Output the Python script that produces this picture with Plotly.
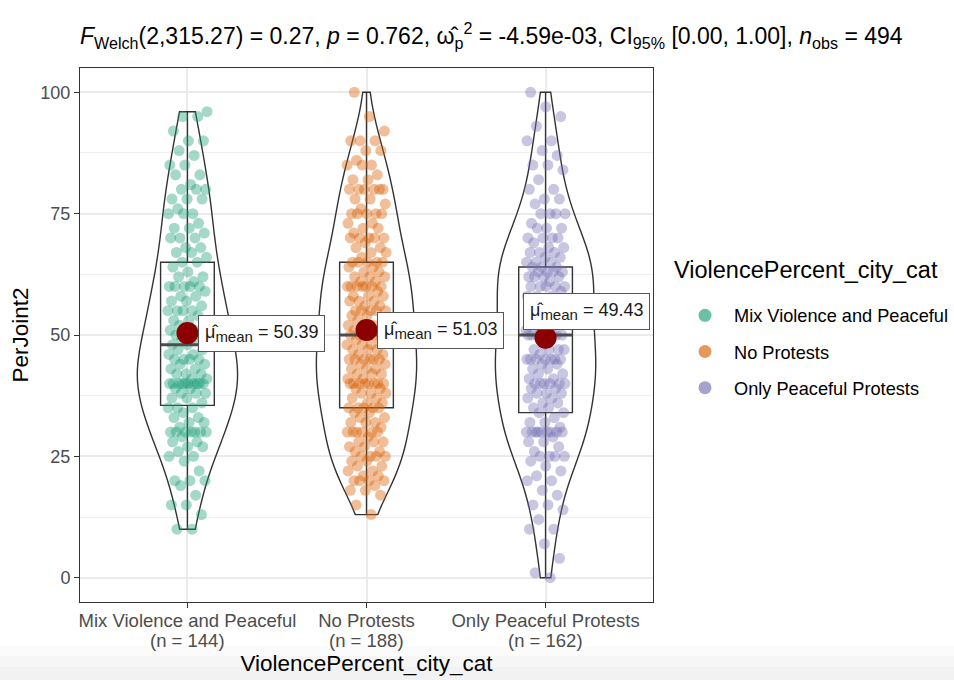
import numpy as np
import plotly.graph_objects as go

# ---------------- data ----------------
categories = ["Mix Violence and Peaceful", "No Protests", "Only Peaceful Protests"]
n_labels = ["(n = 144)", "(n = 188)", "(n = 162)"]

mix_values = [10, 13, 15, 17, 19, 20, 22, 24, 25, 26, 27, 28, 29, 30, 31, 32, 33, 34, 35,
              36, 37, 38, 39, 40, 41, 42, 43, 44, 45, 46, 47, 48,
              49, 50, 51, 52, 53, 54, 55, 56, 57, 58, 59, 60, 61, 62, 63, 64, 65,
              66, 67, 68, 70, 71, 72, 73, 75, 76, 78, 80, 81, 83, 85, 87, 88, 90, 92, 95, 96]
mix_counts = [2, 1, 2, 1, 1, 3, 1, 1, 2, 1, 2, 2, 1, 7, 1, 2, 2, 1, 3,
              1, 2, 3, 2, 10, 2, 3, 2, 2, 4, 2, 2, 2,
              2, 5, 2, 2, 2, 1, 4, 1, 2, 2, 1, 5, 1, 2, 1, 1, 2,
              1, 2, 2, 3, 1, 2, 1, 3, 1, 3, 3, 1, 2, 2, 1, 1, 2, 1, 2, 1]

none_values = [13, 15, 17, 18, 19, 20, 21, 22, 23, 24, 25, 26, 27, 28, 29, 30, 31, 32, 33, 34, 35,
               36, 37, 38, 39, 40, 41, 42, 43, 44, 45, 46, 47, 48, 49, 50,
               51, 52, 53, 54, 55, 56, 57, 58, 59, 60, 61, 62, 63, 64, 65,
               66, 67, 68, 69, 70, 71, 72, 73, 75, 76, 77, 78, 80, 82, 83, 85, 86, 88, 90, 92, 95, 100]
none_counts = [1, 1, 1, 2, 1, 4, 2, 2, 2, 2, 4, 2, 2, 3, 1, 6, 1, 3, 2, 2, 5,
               2, 2, 3, 2, 8, 2, 3, 3, 2, 6, 2, 3, 3, 2, 6,
               2, 3, 2, 2, 5, 2, 3, 3, 1, 7, 2, 3, 2, 2, 5,
               1, 2, 2, 1, 5, 1, 2, 2, 5, 1, 1, 2, 6, 2, 1, 3, 1, 2, 3, 1, 1, 1]

peace_values = [0, 1, 4, 7, 10, 12, 14, 15, 17, 18, 20, 21, 22, 23, 24, 25, 26, 27, 28, 29,
                30, 31, 32, 33, 34,
                35, 36, 37, 38, 39, 40, 41, 42, 43, 44, 45, 46, 47, 48, 50,
                51, 52, 53, 54, 55, 56, 57, 58, 59, 60, 61, 62, 63, 64,
                65, 66, 67, 68, 69, 70, 72, 73, 75, 77, 78, 80, 82, 84, 85, 87, 88, 90, 93, 95, 97, 100]
peace_counts = [1, 1, 1, 1, 2, 1, 1, 2, 1, 1, 2, 1, 1, 1, 1, 4, 1, 1, 2, 1,
                9, 1, 2, 1, 2,
                2, 2, 2, 3, 2, 6, 2, 2, 2, 2, 7, 1, 4, 1, 7,
                2, 1, 2, 2, 3, 2, 2, 3, 1, 5, 1, 4, 4, 3,
                3, 2, 3, 2, 1, 4, 3, 1, 4, 1, 2, 2, 1, 1, 2, 1, 1, 2, 1, 1, 1, 1]

group_means = [50.39, 51.03, 49.43]

title_text = ("<i>F</i><sub>Welch</sub>(2,315.27) = 0.27, <i>p</i> = 0.762, "
              "\u03c9\u0302<sub>p</sub><sup>2</sup> = -4.59e-03, "
              "CI<sub>95%</sub> [0.00, 1.00], <i>n</i><sub>obs</sub> = 494")
legend_title = "ViolencePercent_city_cat"
x_title = "ViolencePercent_city_cat"
y_title = "PerJoint2"

# ---------------- build ----------------
assert len(mix_values) == len(mix_counts) and sum(mix_counts) == 144
assert len(none_values) == len(none_counts) and sum(none_counts) == 188
assert len(peace_values) == len(peace_counts) and sum(peace_counts) == 162

series = [np.repeat(mix_values, mix_counts).astype(float),
          np.repeat(none_values, none_counts).astype(float),
          np.repeat(peace_values, peace_counts).astype(float)]

point_colors = ["#1B9E77", "#D95F02", "#7570B3"]
FONT = "Liberation Sans, Arial, Helvetica, sans-serif"
LINE = "#333333"
BOX_W = 0.3

# plot-area geometry (pixels) used for paper/container placement
W, H = 954, 680
ML, MR, MT, MB = 80, 301, 68, 78
PW, PH = W - ML - MR, H - MT - MB


def px_x(p):
    return (p - ML) / PW


def px_y(p):
    return (H - MB - p) / PH


def nrd0(v):
    sd = np.std(v, ddof=1)
    q75, q25 = np.percentile(v, [75, 25])
    h = min(sd, (q75 - q25) / 1.34)
    return 0.9 * h * len(v) ** (-0.2)


fig = go.Figure()

for i, vals in enumerate(series):
    fig.add_trace(go.Violin(
        x0=i, y=vals, width=0.56, scalegroup="all", scalemode="width",
        spanmode="hard", bandwidth=nrd0(vals),
        line=dict(color=LINE, width=1.4), fillcolor="rgba(255,255,255,0)",
        points=False, box_visible=False, meanline_visible=False,
        showlegend=False, hoverinfo="skip"))
    fig.add_trace(go.Box(
        x0=i, y=vals, width=BOX_W, boxpoints=False, whiskerwidth=0,
        line=dict(color=LINE, width=1.4), fillcolor="rgba(255,255,255,0)",
        showlegend=False, hoverinfo="skip"))

for i, vals in enumerate(series):
    k = np.arange(len(vals))
    jitter = (((k + 1) * 0.6180339887) % 1.0 - 0.5) * 0.22
    fig.add_trace(go.Scatter(
        x=i + jitter, y=vals, mode="markers",
        marker=dict(size=11, color=point_colors[i], opacity=0.4, line=dict(width=0)),
        showlegend=False, hoverinfo="skip"))

# thicker median bars (ggplot draws the median line fattened)
for i, vals in enumerate(series):
    med = float(np.median(vals))
    fig.add_trace(go.Scatter(
        x=[i - BOX_W / 2, i + BOX_W / 2], y=[med, med], mode="lines",
        line=dict(color="#4D4D4D", width=3), showlegend=False, hoverinfo="skip"))

# legend entries
for i, cat in enumerate(categories):
    fig.add_trace(go.Scatter(
        x=[None], y=[None], mode="markers", name=cat, legendgroup=cat,
        marker=dict(size=13, color=point_colors[i], opacity=0.65, line=dict(width=0))))

# means
fig.add_trace(go.Scatter(
    x=list(range(len(categories))), y=group_means, mode="markers",
    marker=dict(size=22, color="#8B0000", line=dict(width=0)),
    showlegend=False, hoverinfo="skip"))

label_shift = [(11, 0), (10, 0), (-23, 26)]
annotations = []
for i, m in enumerate(group_means):
    annotations.append(dict(
        x=i, y=m, xref="x", yref="y", showarrow=False,
        text=(f"\u03bc\u0302<sub><span style='font-size:15px'>mean</span></sub>"
              f" = {m:.2f}"),
        xanchor="left", yanchor="middle",
        xshift=label_shift[i][0], yshift=label_shift[i][1],
        bgcolor="white", bordercolor="#555555", borderwidth=1, borderpad=6,
        font=dict(size=18, color="#1a1a1a", family=FONT)))

# second line of the x tick labels
for i, nl in enumerate(n_labels):
    annotations.append(dict(
        x=i, y=0, xref="x", yref="paper", showarrow=False, text=nl,
        xanchor="center", yanchor="top", yshift=-26,
        font=dict(size=18.5, color="#4D4D4D", family=FONT)))

# legend title
annotations.append(dict(
    x=px_x(672), y=px_y(270), xref="paper", yref="paper", showarrow=False,
    text=legend_title, xanchor="left", yanchor="middle",
    font=dict(size=23.5, color="black", family=FONT)))

# faint grey band at the bottom of the picture
shapes = []
for top, bot, col in [(646, 656, "#FBFBFB"), (656, 667, "#F6F6F6"), (667, 681, "#F2F2F2")]:
    shapes.append(dict(type="rect", xref="paper", yref="paper",
                       x0=px_x(-1), x1=px_x(W + 1), y0=px_y(bot), y1=px_y(top),
                       fillcolor=col, line=dict(width=0), layer="below"))

fig.update_layout(
    template="none",
    width=W, height=H,
    margin=dict(l=ML, r=MR, t=MT, b=MB, autoexpand=False),
    paper_bgcolor="white", plot_bgcolor="white",
    font=dict(family=FONT, color="black"),
    title=dict(text=title_text, x=80 / W, xref="container", xanchor="left",
               y=1 - 36 / H, yref="container", yanchor="middle",
               font=dict(size=23, color="black", family=FONT)),
    annotations=annotations,
    shapes=shapes,
    legend=dict(x=664 / W, xref="container", xanchor="left",
                y=1 - 297 / H, yref="container", yanchor="top",
                font=dict(size=18.2, color="black"), tracegroupgap=9.5,
                indentation=12, itemwidth=48, bgcolor="rgba(0,0,0,0)"),
)

fig.update_xaxes(
    range=[-0.6, 2.6], tickmode="array", tickvals=list(range(len(categories))),
    ticktext=categories, ticklabelstandoff=-3,
    ticks="outside", ticklen=5, tickwidth=1, tickcolor=LINE,
    showline=True, mirror=True, linecolor=LINE, linewidth=1,
    showgrid=True, gridcolor="#EBEBEB", gridwidth=1.5, zeroline=False,
    tickfont=dict(size=18.5, color="#4D4D4D"), automargin=False,
    title=dict(text=x_title, font=dict(size=22.5, color="black"), standoff=25))

fig.update_yaxes(
    range=[-5, 105], tickmode="linear", tick0=0, dtick=25,
    ticks="outside", ticklen=5, tickwidth=1, tickcolor=LINE,
    showline=True, mirror=True, linecolor=LINE, linewidth=1,
    showgrid=True, gridcolor="#EBEBEB", gridwidth=1.5, zeroline=False,
    minor=dict(tickmode="linear", tick0=0, dtick=12.5, showgrid=True,
               gridcolor="#F0F0F0", gridwidth=0.9, ticks=""),
    tickfont=dict(size=18, color="#4D4D4D"), automargin=False,
    title=dict(text=y_title, font=dict(size=22.5, color="black"), standoff=5))

fig.write_html("out.html")
